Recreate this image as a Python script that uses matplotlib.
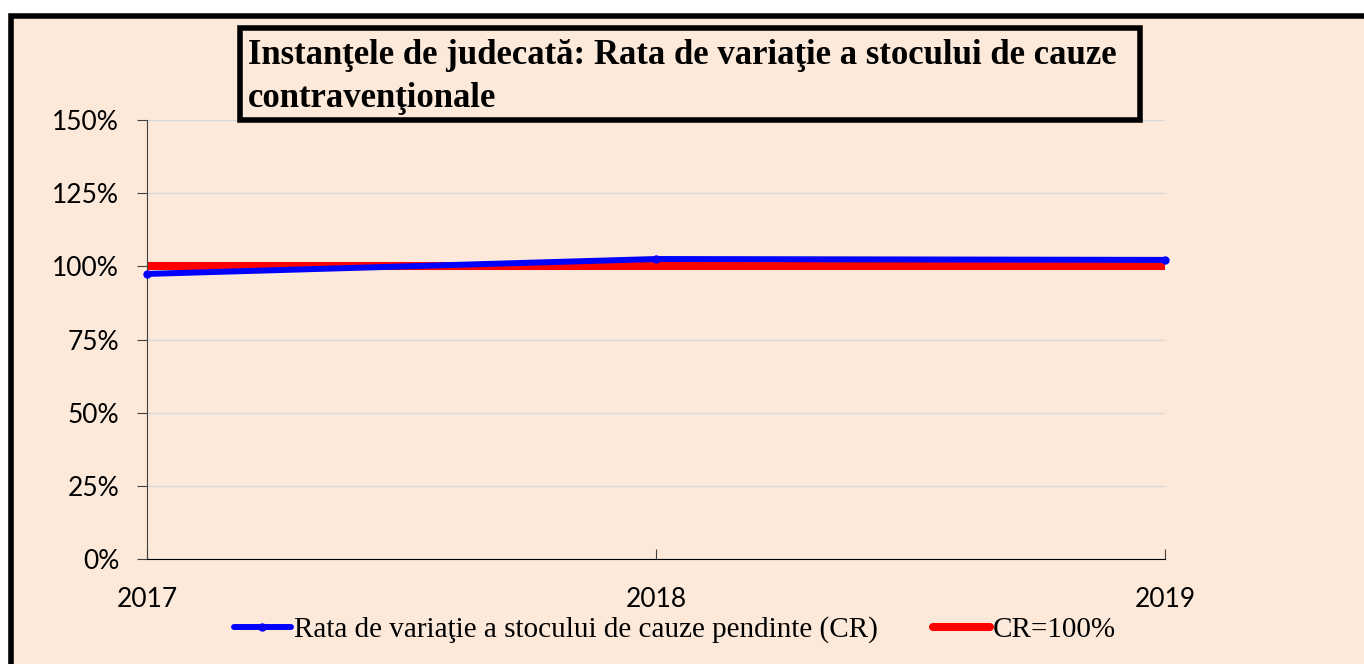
import matplotlib.pyplot as plt
from matplotlib.patches import Rectangle
from matplotlib.ticker import FuncFormatter

ani = [2017, 2018, 2019]
rata_cr = [0.974, 1.025, 1.022]
cr_100 = [1.0, 1.0, 1.0]
y_ticks = [0, 0.25, 0.5, 0.75, 1.0, 1.25, 1.5]

titlu = "Instanţele de judecată: Rata de variaţie a stocului de cauze\ncontravenţionale"
eticheta_cr = "Rata de variaţie a stocului de cauze pendinte (CR)"
eticheta_100 = "CR=100%"

W, H = 1364, 664
fig = plt.figure(figsize=(W / 100, H / 100), dpi=100, facecolor="white")

# fundalul piersicii cu chenar negru (taiat la dreapta si jos)
fig.patches.append(Rectangle((11 / W, -0.1), 1.2, (H - 16) / H + 0.1,
                             transform=fig.transFigure, facecolor="#FDE9D9",
                             edgecolor="black", linewidth=4, zorder=-10))

ax = fig.add_axes([147 / W, (H - 559) / H, (1165 - 147) / W, (559 - 120) / H])
ax.set_facecolor("none")
ax.set_zorder(1)

ax.plot(ani, rata_cr, color="#0000FF", lw=4.3, marker="o", ms=5,
        mfc="#0000FF", mec="#0000FF", solid_capstyle="round", zorder=3,
        label=eticheta_cr, clip_on=False)
ax.plot(ani, cr_100, color="#FF0000", lw=5.8, solid_capstyle="butt", zorder=2,
        label=eticheta_100, clip_on=False)

ax.set_xlim(2017, 2019)
ax.set_ylim(0, 1.5)
ax.set_yticks(y_ticks)
ax.yaxis.set_major_formatter(FuncFormatter(lambda v, p: f"{v * 100:.0f}%"))
ax.set_xticks(ani)
ax.set_xticklabels([str(a) for a in ani])
ax.grid(axis="y", color="#D9D9D9", lw=1)
ax.set_axisbelow(True)

for s in ["top", "right"]:
    ax.spines[s].set_visible(False)
ax.spines["left"].set_color("#404040")
ax.spines["bottom"].set_color("black")
ax.tick_params(axis="y", direction="out", length=7, color="#404040",
               labelsize=19, pad=13)
ax.tick_params(axis="x", direction="in", length=7, color="#404040",
               labelsize=19, pad=20)
for lab in ax.get_xticklabels() + ax.get_yticklabels():
    lab.set_family("Lato")

# titlul in caseta
fig.patches.append(Rectangle((240 / W, (H - 120) / H), (1140 - 240) / W, 92 / H,
                             transform=fig.transFigure, facecolor="#FDE9D9",
                             edgecolor="black", linewidth=4, zorder=5))
fig.text(248 / W, (H - 77) / H, titlu, family="Liberation Serif",
         fontweight="bold", fontsize=25, va="center", ha="left",
         linespacing=1.4, zorder=6)

leg = fig.legend(loc="center", bbox_to_anchor=(675 / W, (H - 630) / H), ncol=2,
                 frameon=False, prop={"family": "Liberation Serif", "size": 21},
                 handlelength=1.95, handletextpad=0.1, columnspacing=1.9)
for ln in leg.get_lines():
    ln.set_solid_capstyle("round")

fig.savefig("out.png", dpi=100, facecolor="white")
